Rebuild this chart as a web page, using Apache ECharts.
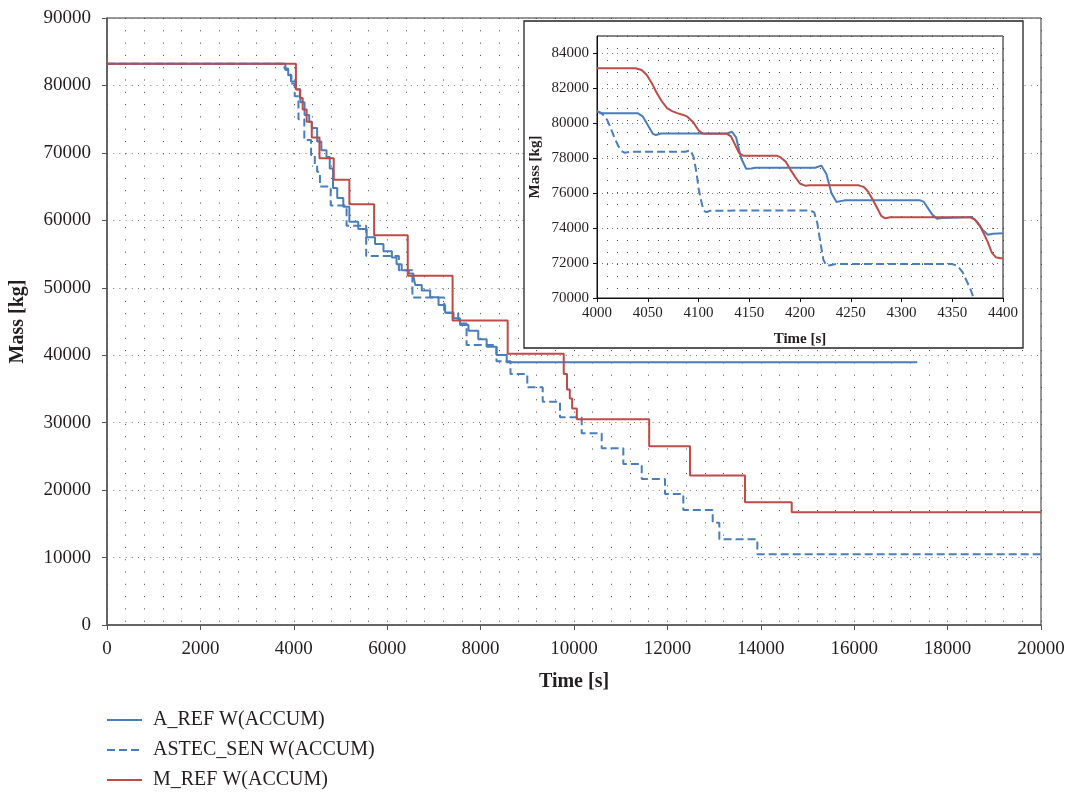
<!DOCTYPE html>
<html>
<head>
<meta charset="utf-8">
<script src="https://cdn.jsdelivr.net/npm/echarts@6/dist/echarts.min.js"></script>
<style>
  html, body { margin: 0; padding: 0; background: #fff; }
  #chart { width: 1069px; height: 792px; }
</style>
</head>
<body>
<div id="chart"></div>
<script>
// ---------- DATA ----------
const seriesNames = ['A_REF W(ACCUM)', 'ASTEC_SEN W(ACCUM)', 'M_REF W(ACCUM)'];

// Main chart: [time s, mass kg after the step] (drawn as steps)
const aRefMain = [[0,83200],[3820,82300],[3880,81600],[3940,80600],[4050,79450],[4140,77500],[4230,75600],[4330,74600],[4385,73700],[4500,71700],[4590,70400],[4700,69400],[4770,67700],[4840,64800],[4930,63300],[5060,62000],[5190,59800],[5380,58700],[5560,57500],[5740,56500],[5920,55400],[6100,54500],[6200,53500],[6310,52600],[6460,52100],[6560,51700],[6600,50400],[6740,49600],[6920,48600],[7100,47450],[7240,46300],[7420,45470],[7560,44480],[7740,43640],[7950,42360],[8130,41270],[8340,40030],[8560,38950],[17350,38950]];
const astecSenMain = [[0,83200],[3800,82500],[3880,81500],[3950,80300],[4020,78400],[4100,75000],[4225,71900],[4370,69700],[4450,68200],[4500,67200],[4560,65000],[4790,62200],[5130,59200],[5550,54700],[6250,52600],[6540,48540],[7220,46300],[7520,44700],[7700,41500],[8340,39100],[8640,37200],[9000,35240],[9330,33110],[9700,30790],[10165,28420],[10593,26200],[11056,23870],[11450,21650],[11949,19420],[12341,17050],[12970,15170],[13112,12710],[13926,10500],[20000,10500]];
const mRefMain = [[0,83200],[4045,79400],[4130,78150],[4190,76450],[4275,74600],[4385,72300],[4550,69200],[4855,66000],[5190,62400],[5720,57800],[6440,51800],[7400,45150],[8580,40200],[9780,37200],[9850,34900],[9910,33600],[9960,32100],[10060,30500],[11610,26500],[12484,22180],[13662,18200],[14662,16700],[20000,16700]];

// Inset (zoom 4000-4400 s): [time s, mass kg]
const aRefInset = [[4000,80700],[4005,80580],[4040,80580],[4045,80400],[4050,79900],[4055,79400],[4058,79330],[4063,79420],[4128,79420],[4133,79520],[4137,79200],[4142,78000],[4147,77400],[4152,77420],[4156,77460],[4215,77460],[4221,77580],[4226,77100],[4231,76000],[4236,75500],[4241,75560],[4245,75600],[4318,75600],[4322,75500],[4330,74800],[4335,74540],[4340,74580],[4365,74620],[4369,74640],[4374,74400],[4380,73900],[4385,73620],[4390,73680],[4400,73700]];
const astecSenInset = [[4000,80680],[4005,80550],[4010,80200],[4013,79800],[4017,79200],[4021,78700],[4024,78420],[4027,78320],[4033,78370],[4087,78370],[4092,78460],[4095,78100],[4098,77200],[4100,76300],[4102,75700],[4105,75000],[4108,74920],[4112,75000],[4210,75010],[4214,74900],[4217,74300],[4220,73200],[4223,72200],[4226,71850],[4230,71880],[4235,71940],[4350,71940],[4355,71850],[4360,71500],[4364,71000],[4368,70500],[4371,70000],[4374,69400]];
const mRefInset = [[4000,83150],[4038,83150],[4044,83050],[4049,82770],[4054,82300],[4059,81720],[4064,81250],[4069,80870],[4074,80700],[4079,80585],[4085,80480],[4089,80380],[4095,80050],[4100,79600],[4104,79420],[4110,79400],[4128,79400],[4132,79250],[4136,78780],[4140,78300],[4144,78150],[4177,78150],[4181,78050],[4186,77800],[4190,77400],[4195,76950],[4200,76550],[4205,76430],[4210,76450],[4258,76450],[4263,76350],[4267,76100],[4272,75600],[4276,75150],[4280,74700],[4284,74560],[4289,74620],[4368,74620],[4372,74500],[4377,74150],[4381,73700],[4385,73200],[4389,72600],[4393,72330],[4397,72280],[4400,72280]];

// Axis ranges / ticks
const mainX = { min: 0, max: 20000, interval: 2000 };
const mainY = { min: 0, max: 90000, interval: 10000 };
const insetX = { min: 4000, max: 4400, interval: 50 };
const insetY = { min: 70000, max: 85000, interval: 2000 };

// ---------- STYLE ----------
const BLUE = '#4a7ebb';
const RED = '#be4b48';
const TXT = '#231f20';
const FONT = 'Liberation Serif';
const DOT = '#444';

const chart = echarts.init(document.getElementById('chart'), null, { renderer: 'canvas' });

function lineSeries(name, data, color, dashed, axisIdx, step, z) {
  return {
    name: name, type: 'line', data: data,
    xAxisIndex: axisIdx, yAxisIndex: axisIdx,
    step: step, symbol: 'none', showSymbol: false,
    z: z, animation: false, clip: true,
    lineStyle: { color: color, width: 2, type: dashed ? [8, 4] : 'solid' },
    itemStyle: { color: color }
  };
}

const option = {
  animation: false,
  backgroundColor: '#fff',
  textStyle: { fontFamily: FONT, color: TXT },
  grid: [
    { left: 107, right: 28, top: 18, bottom: 167, show: true, borderColor: '#333', borderWidth: 1, backgroundColor: 'transparent', z: 0 },
    { left: 597, right: 66, top: 36, bottom: 494, show: true, borderColor: '#111', borderWidth: 1, backgroundColor: 'transparent', z: 10 }
  ],
  graphic: [
    { type: 'rect', z: 5, shape: { x: 524, y: 21, width: 499, height: 327 },
      style: { fill: '#fff', stroke: '#222', lineWidth: 1.3 } }
  ],
  xAxis: [
    {
      gridIndex: 0, type: 'value', min: mainX.min, max: mainX.max, interval: mainX.interval,
      name: 'Time [s]', nameLocation: 'middle', nameGap: 47,
      nameTextStyle: { fontFamily: FONT, fontSize: 20, fontWeight: 'bold', color: TXT },
      axisLine: { show: true, onZero: false, lineStyle: { color: '#555', width: 1.5 } },
      axisTick: { show: true, length: 5, inside: false, lineStyle: { color: '#555' } },
      axisLabel: { fontFamily: FONT, fontSize: 19, color: TXT, margin: 15, formatter: v => String(v) },
      splitLine: { show: true, lineStyle: { color: DOT, width: 1, type: [1, 11.3] } },
      minorTick: { show: false, splitNumber: 5 },
      minorSplitLine: { show: true, lineStyle: { color: DOT, width: 1, type: [1, 11.3] } }
    },
    {
      gridIndex: 1, type: 'value', min: insetX.min, max: insetX.max, interval: insetX.interval, z: 11,
      name: 'Time [s]', nameLocation: 'middle', nameGap: 34,
      nameTextStyle: { fontFamily: FONT, fontSize: 15, fontWeight: 'bold', color: TXT },
      axisLine: { show: true, onZero: false, lineStyle: { color: '#111', width: 1 } },
      axisTick: { show: true, length: 4, lineStyle: { color: '#111' } },
      axisLabel: { fontFamily: FONT, fontSize: 15, color: TXT, margin: 8, formatter: v => String(v) },
      splitLine: { show: true, lineStyle: { color: DOT, width: 1, type: [1, 11] } },
      minorTick: { show: false, splitNumber: 5 },
      minorSplitLine: { show: true, lineStyle: { color: DOT, width: 1, type: [1, 11] } }
    }
  ],
  yAxis: [
    {
      gridIndex: 0, type: 'value', min: mainY.min, max: mainY.max, interval: mainY.interval,
      name: 'Mass [kg]', nameLocation: 'middle', nameGap: 79, nameRotate: 90,
      nameTextStyle: { fontFamily: FONT, fontSize: 20, fontWeight: 'bold', color: TXT },
      axisLine: { show: true, onZero: false, lineStyle: { color: '#555', width: 1.5 } },
      axisTick: { show: true, length: 5, lineStyle: { color: '#555' } },
      axisLabel: { fontFamily: FONT, fontSize: 19, color: TXT, margin: 16, formatter: v => String(v) },
      splitLine: { show: true, lineStyle: { color: '#777', width: 1, type: [1, 5.2] } }
    },
    {
      gridIndex: 1, type: 'value', min: insetY.min, max: insetY.max, interval: insetY.interval, z: 11,
      name: 'Mass [kg]', nameLocation: 'middle', nameGap: 54, nameRotate: 90,
      nameTextStyle: { fontFamily: FONT, fontSize: 15, fontWeight: 'bold', color: TXT },
      axisLine: { show: true, onZero: false, lineStyle: { color: '#111', width: 1 } },
      axisTick: { show: true, length: 4, lineStyle: { color: '#111' } },
      axisLabel: { fontFamily: FONT, fontSize: 15, color: TXT, margin: 8, showMaxLabel: false, formatter: v => String(v) },
      splitLine: { show: true, lineStyle: { color: '#777', width: 1, type: [1, 4] } }
    }
  ],
  legend: {
    data: seriesNames, orient: 'vertical', left: 101, top: 704, height: 88,
    itemWidth: 35, itemHeight: 12, itemGap: 8,
    itemStyle: { opacity: 0 },
    textStyle: { fontFamily: FONT, fontSize: 20, lineHeight: 22, color: TXT, padding: [0, 0, 0, 6] }
  },
  series: [
    lineSeries(seriesNames[0], aRefMain, BLUE, false, 0, 'end', 3),
    lineSeries(seriesNames[1], astecSenMain, BLUE, true, 0, 'end', 3),
    lineSeries(seriesNames[2], mRefMain, RED, false, 0, 'end', 4),
    lineSeries(seriesNames[0], aRefInset, BLUE, false, 1, false, 12),
    lineSeries(seriesNames[1], astecSenInset, BLUE, true, 1, false, 12),
    lineSeries(seriesNames[2], mRefInset, RED, false, 1, false, 13)
  ]
};

chart.setOption(option);
</script>
</body>
</html>
